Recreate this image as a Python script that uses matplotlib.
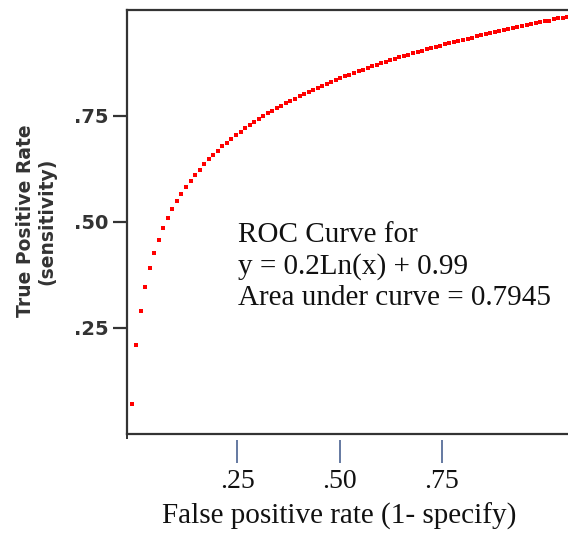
import matplotlib
matplotlib.use("Agg")
import matplotlib.pyplot as plt

# ROC points (false positive rate, true positive rate)
fpr = [0.01, 0.02, 0.03, 0.04, 0.05, 0.06, 0.07, 0.08, 0.09, 0.10,
       0.11, 0.12, 0.13, 0.14, 0.15, 0.16, 0.17, 0.18, 0.19, 0.20,
       0.21, 0.22, 0.23, 0.24, 0.25, 0.26, 0.27, 0.28, 0.29, 0.30,
       0.31, 0.32, 0.33, 0.34, 0.35, 0.36, 0.37, 0.38, 0.39, 0.40,
       0.41, 0.42, 0.43, 0.44, 0.45, 0.46, 0.47, 0.48, 0.49, 0.50,
       0.51, 0.52, 0.53, 0.54, 0.55, 0.56, 0.57, 0.58, 0.59, 0.60,
       0.61, 0.62, 0.63, 0.64, 0.65, 0.66, 0.67, 0.68, 0.69, 0.70,
       0.71, 0.72, 0.73, 0.74, 0.75, 0.76, 0.77, 0.78, 0.79, 0.80,
       0.81, 0.82, 0.83, 0.84, 0.85, 0.86, 0.87, 0.88, 0.89, 0.90,
       0.91, 0.92, 0.93, 0.94, 0.95, 0.96, 0.97, 0.98, 0.99, 1.00]
tpr = [0.069, 0.208, 0.289, 0.346, 0.391, 0.427, 0.458, 0.485, 0.508, 0.529,
       0.549, 0.566, 0.582, 0.597, 0.611, 0.623, 0.636, 0.647, 0.658, 0.668,
       0.678, 0.687, 0.696, 0.705, 0.713, 0.721, 0.728, 0.735, 0.742, 0.749,
       0.756, 0.762, 0.768, 0.774, 0.780, 0.786, 0.791, 0.796, 0.802, 0.807,
       0.812, 0.817, 0.821, 0.826, 0.830, 0.835, 0.839, 0.843, 0.847, 0.851,
       0.855, 0.859, 0.863, 0.867, 0.870, 0.874, 0.878, 0.881, 0.884, 0.888,
       0.891, 0.894, 0.898, 0.901, 0.904, 0.907, 0.910, 0.913, 0.916, 0.919,
       0.922, 0.924, 0.927, 0.930, 0.932, 0.935, 0.938, 0.940, 0.943, 0.945,
       0.948, 0.950, 0.953, 0.955, 0.957, 0.960, 0.962, 0.964, 0.967, 0.969,
       0.971, 0.973, 0.975, 0.978, 0.980, 0.982, 0.984, 0.986, 0.988, 0.990]

y_ticks = [0.25, 0.50, 0.75]
y_ticklabels = [".25", ".50", ".75"]
x_ticks = [0.25, 0.50, 0.75]
x_ticklabels = [".25", ".50", ".75"]

note_lines = ["ROC Curve for", "y = 0.2Ln(x) + 0.99", "Area under curve = 0.7945"]

W, H = 568, 539
fig = plt.figure(figsize=(W / 100, H / 100), dpi=100)
rect = [127 / W, (H - 433.5) / H, 454 / W, 423.5 / H]
ax = fig.add_axes(rect)

ax.plot(fpr, tpr, linestyle="none", marker="s", markersize=3.3,
        color="#ff0000", markeredgewidth=0)
ax.set_xlim(0, 1)
ax.set_ylim(0, 1)

for s in ["left", "bottom", "top"]:
    ax.spines[s].set_color("#333333")
    ax.spines[s].set_linewidth(1.6)
ax.spines["right"].set_visible(False)

ax.set_yticks(y_ticks)
ax.set_yticklabels(y_ticklabels, fontfamily="DejaVu Sans", fontweight="bold",
                   fontsize=14, color="#333333")
ax.tick_params(axis="y", direction="out", length=10, width=1.6,
               color="#333333", pad=3.5)
ax.set_xticks([0])
ax.set_xticklabels([""])
ax.tick_params(axis="x", direction="out", length=3.5, width=1.4, color="#333333")

# separate, detached x tick axis (drawn in blue, serif labels)
tick_ax = fig.add_axes(rect)
tick_ax.patch.set_visible(False)
tick_ax.set_xlim((126.5 - 134) / 410, (580.5 - 134) / 410)
tick_ax.set_yticks([])
for s in tick_ax.spines.values():
    s.set_visible(False)
tick_ax.spines["bottom"].set_position(("outward", 5))
tick_ax.set_xticks(x_ticks)
tick_ax.set_xticklabels(x_ticklabels, fontfamily="Liberation Serif",
                        fontsize=20, color="#111111")
tick_ax.tick_params(axis="x", direction="out", length=16.5, width=1.2,
                    color="#4a6291", pad=4)

fig.text(36 / W, 1 - 221 / H, "True Positive Rate\n(sensitivity)",
         rotation=90, ha="center", va="center", multialignment="center",
         fontfamily="DejaVu Sans", fontweight="bold", fontsize=13.5,
         color="#333333", linespacing=1.15)

fig.text(339 / W, 1 - 523.5 / H, "False positive rate (1- specify)",
         ha="center", va="baseline", fontfamily="Liberation Serif",
         fontsize=21, color="#111111")

for i, line in enumerate(note_lines):
    fig.text(238 / W, 1 - (242 + 31.5 * i) / H, line, ha="left", va="baseline",
             fontfamily="Liberation Serif", fontsize=21, color="#111111")

fig.savefig("out.png", dpi=100)
